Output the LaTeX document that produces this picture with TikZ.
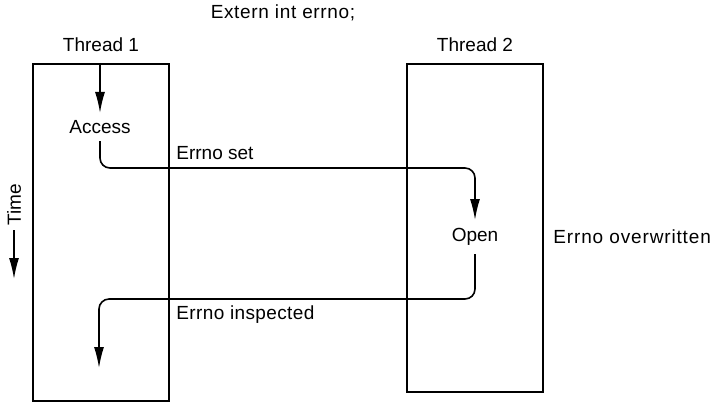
\documentclass[tikz,border=0pt]{standalone}
\usepackage{fontspec}
\setmainfont{Liberation Sans}
\usepackage{tikz}
\usetikzlibrary{arrows.meta,positioning,calc}

\tikzset{
  thread/.style={draw,line width=1.1pt,minimum width=68pt,inner sep=0pt},
  call/.style={inner sep=3.5pt},
  flow/.style={line width=0.8pt,rounded corners=5pt,-{Latex[length=10.5pt,width=5pt]}},
  note/.style={anchor=west,inner sep=0pt},
  spaced/.style={font=\fontsize{9.5}{11}\selectfont\addfontfeatures{LetterSpace=#1}}
}

\begin{document}
\begin{tikzpicture}[x=0.5pt,y=-0.5pt,font=\fontsize{9.5}{11}\selectfont]
    \useasboundingbox (0,0) rectangle (717,404);
    % shared variable
    \node[spaced=3.5] (title) at (283,13) {Extern int errno;};
    % the two threads
    \node[thread,minimum height=168.5pt] (box1) at (101,232.5) {};
    \node[thread,minimum height=164pt] (box2) at (475,228) {};
    \node[above=2pt of box1] (t1label) {Thread 1};
    \node[above=2pt of box2] (t2label) {Thread 2};
    \node[call] (access) at (100,127) {Access};
    \node[call,inner sep=4pt] (open) at (475,237) {Open};
    \coordinate (seth) at (0,168);
    \coordinate (inspecth) at (0,299);
    \coordinate (endp) at (99,368);
    \draw[flow] (access |- box1.north) -- (access.north);
    \draw[flow] (access.south) |- (open |- seth) -- (open.north);
    \draw[flow] (open.south) |- (endp |- inspecth) -- (endp);
    \node[note] (setlabel) at (176,153) {Errno set};
    \node[note,spaced=4.5] (overlabel) at (553,237) {Errno overwritten};
    \node[note,spaced=2] (inslabel) at (176,315) {Errno inspected};
    % time axis
    \node[rotate=90,inner sep=2pt] (time) at (14,205) {Time};
    \coordinate (timeend) at (14,279);
    \draw[flow] (time.west) -- (timeend);
  \end{tikzpicture}
\end{document}
